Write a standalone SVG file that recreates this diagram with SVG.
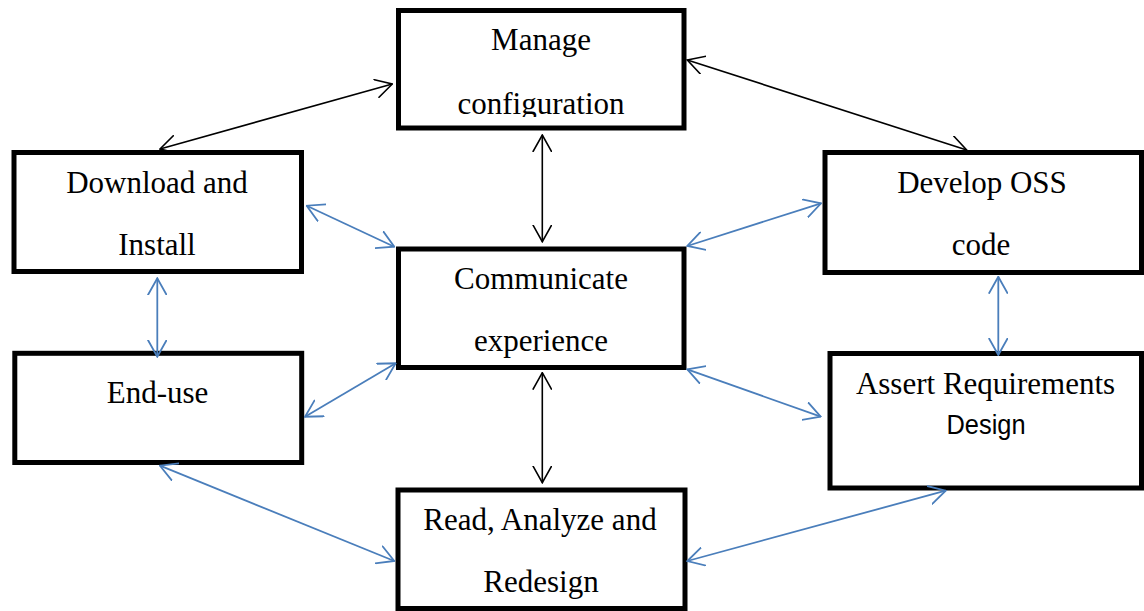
<svg xmlns="http://www.w3.org/2000/svg" width="1144" height="611" viewBox="0 0 1144 611">
  <style>
    .box { fill: #ffffff; stroke: #000000; stroke-width: 5; }
    .lbl { font-family: "Liberation Serif", "Times New Roman", serif; font-size: 31px; fill: #000000; text-anchor: middle; }
    .sans { font-family: "Liberation Sans", Arial, sans-serif; font-size: 27px; fill: #000000; text-anchor: middle; }
    .blk { fill: none; stroke: #000000; stroke-width: 1.6; marker-start: url(#headK); marker-end: url(#headK); }
    .blu { fill: none; stroke: #4a7ebb; stroke-width: 1.8; marker-start: url(#headB); marker-end: url(#headB); }
  </style>
  <defs>
    <marker id="headK" viewBox="0 0 18 20" refX="17" refY="10" markerWidth="18" markerHeight="20" markerUnits="userSpaceOnUse" orient="auto-start-reverse">
      <path d="M0,0.5 L17,10 L0,19.5" fill="none" stroke="#000000" stroke-width="1.6"/>
    </marker>
    <marker id="headB" viewBox="0 0 18 20" refX="17" refY="10" markerWidth="18" markerHeight="20" markerUnits="userSpaceOnUse" orient="auto-start-reverse">
      <path d="M0,0.5 L17,10 L0,19.5" fill="none" stroke="#4a7ebb" stroke-width="1.8"/>
    </marker>
    <clipPath id="manageClip">
      <rect x="400" y="12" width="282" height="105"/>
    </clipPath>
  </defs>
  <rect width="1144" height="611" fill="#ffffff"/>

  <g id="node-manage">
    <rect class="box" x="398.5" y="10.5" width="285.5" height="117.5"/>
    <g clip-path="url(#manageClip)">
      <text class="lbl" x="541" y="50">Manage</text>
      <text class="lbl" x="541" y="114">configuration</text>
    </g>
  </g>

  <g id="node-download">
    <rect class="box" x="14" y="152.5" width="287.5" height="119"/>
    <text class="lbl" x="157" y="193">Download and</text>
    <text class="lbl" x="157" y="255">Install</text>
  </g>

  <g id="node-develop">
    <rect class="box" x="825" y="152.5" width="316.5" height="120"/>
    <text class="lbl" x="982" y="193">Develop OSS</text>
    <text class="lbl" x="981" y="255">code</text>
  </g>

  <g id="node-communicate">
    <rect class="box" x="398.5" y="249" width="285.5" height="118.5"/>
    <text class="lbl" x="541" y="288.5">Communicate</text>
    <text class="lbl" x="541" y="351">experience</text>
  </g>

  <g id="node-enduse">
    <rect class="box" x="14.8" y="353.3" width="286.9" height="109.2"/>
    <text class="lbl" x="157.5" y="402.5">End-use</text>
  </g>

  <g id="node-assert">
    <rect class="box" x="830" y="353.5" width="311.5" height="134.5"/>
    <text class="lbl" x="985.5" y="393.5">Assert Requirements</text>
    <text class="sans" x="986" y="434" textLength="79" lengthAdjust="spacingAndGlyphs">Design</text>
  </g>

  <g id="node-read">
    <rect class="box" x="398" y="490" width="287" height="118.5"/>
    <text class="lbl" x="540" y="530">Read, Analyze and</text>
    <text class="lbl" x="541" y="591.5">Redesign</text>
  </g>

  <g id="connectors">
    <line class="blk" x1="160" y1="149" x2="392.3" y2="84"/>
    <line class="blk" x1="687.3" y1="60" x2="966.7" y2="150"/>
    <line class="blk" x1="542.3" y1="135" x2="542.3" y2="241.7"/>
    <line class="blk" x1="542.3" y1="372.7" x2="542.3" y2="482.7"/>

    <line class="blu" x1="306.7" y1="205.7" x2="394.3" y2="246.7"/>
    <line class="blu" x1="157.3" y1="278.3" x2="157.3" y2="356.7"/>
    <line class="blu" x1="305" y1="416.7" x2="395.7" y2="363.3"/>
    <line class="blu" x1="160" y1="465.7" x2="394.3" y2="561"/>
    <line class="blu" x1="821" y1="203.3" x2="687.3" y2="246"/>
    <line class="blu" x1="998.3" y1="276.7" x2="998.3" y2="355"/>
    <line class="blu" x1="687.3" y1="369.3" x2="820.7" y2="416.7"/>
    <line class="blu" x1="687.3" y1="561" x2="945.7" y2="490.7"/>
  </g>
</svg>
